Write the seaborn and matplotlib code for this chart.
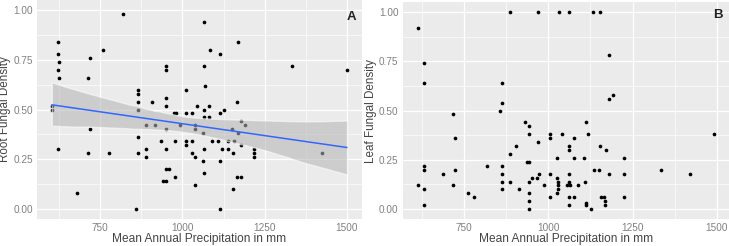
import matplotlib
matplotlib.use("Agg")
import matplotlib.pyplot as plt
from matplotlib.ticker import MultipleLocator
import seaborn as sns
import pandas as pd

# Panel A: root fungal density vs mean annual precipitation
root_precip = [603, 603, 623, 623, 625, 623, 625, 623, 681, 712, 718, 718, 712, 760, 778,
               818, 858, 866, 866, 866, 866, 866, 866, 889, 889, 889, 908, 918, 935, 941,
               950, 951, 951, 951, 951, 951, 951, 951, 958, 973, 980, 977, 977, 993,
               1067, 1168, 1083, 1114, 1066, 1333, 1500, 1068, 1011, 1166, 1045, 1082, 1127,
               1067, 1011, 1030, 1114, 1066, 1082, 1178, 1037, 1190, 1037, 1150, 1062, 1168,
               1011, 1030, 1089, 1108, 1139, 1156, 1011, 1178, 1066, 1119, 1137, 1218, 1030,
               1153, 1218, 1423, 1037, 1218, 1062, 1114, 1066, 1166, 1178, 1037, 1153, 1114]
root_density = [0.52, 0.50, 0.84, 0.78, 0.74, 0.70, 0.66, 0.30, 0.08, 0.66, 0.76, 0.40, 0.28, 0.80, 0.28,
                0.98, 0.00, 0.60, 0.58, 0.54, 0.50, 0.36, 0.28, 0.42, 0.30, 0.26, 0.54, 0.42, 0.34, 0.14,
                0.14, 0.72, 0.70, 0.56, 0.52, 0.40, 0.30, 0.20, 0.20, 0.48, 0.48, 0.34, 0.16, 0.42,
                0.94, 0.84, 0.80, 0.78, 0.72, 0.72, 0.70, 0.62, 0.60, 0.54, 0.52, 0.52, 0.50,
                0.50, 0.48, 0.48, 0.48, 0.46, 0.46, 0.44, 0.42, 0.42, 0.40, 0.40, 0.38, 0.38,
                0.34, 0.34, 0.34, 0.34, 0.34, 0.34, 0.32, 0.32, 0.30, 0.30, 0.30, 0.30, 0.28,
                0.28, 0.28, 0.28, 0.26, 0.26, 0.24, 0.24, 0.18, 0.16, 0.16, 0.12, 0.10, 0.00]

# Panel B: leaf fungal density vs mean annual precipitation
leaf_precip = [612, 632, 632, 632, 632, 612, 632, 632, 687, 717, 722, 724, 717, 763, 780,
               819, 857, 862, 862, 862, 862, 862, 862, 886, 886, 887, 904, 914, 930, 937,
               944, 944, 944, 944, 944, 944, 944, 953, 968, 970, 973, 970,
               1031, 1061, 1134, 1152, 1179, 1191, 1179, 1113, 1004, 1040, 1118, 1491, 1004,
               1077, 1061, 1152, 1061, 1170, 1025, 1077, 1105, 1224, 1137, 1150, 1334, 1421,
               1004, 1061, 1179, 1224, 1025, 1030, 1061, 1110, 1030, 1057, 1064, 1088, 986,
               1030, 1025, 1004, 1061, 1077, 1155, 1165, 1224, 1113, 1113, 1061, 1167, 1167, 1126]
leaf_density = [0.92, 0.74, 0.64, 0.22, 0.20, 0.12, 0.10, 0.02, 0.18, 0.48, 0.36, 0.20, 0.12, 0.08, 0.06,
                0.22, 0.50, 0.64, 0.54, 0.22, 0.18, 0.14, 0.10, 1.00, 0.14, 0.28, 0.32, 0.10, 0.44, 0.24,
                0.24, 0.42, 0.38, 0.14, 0.08, 0.04, 0.00, 0.16, 0.16, 0.34, 0.18, 1.00,
                1.00, 1.00, 1.00, 1.00, 0.78, 0.58, 0.56, 0.44, 0.38, 0.38, 0.38, 0.38, 0.36,
                0.36, 0.32, 0.32, 0.30, 0.30, 0.26, 0.26, 0.26, 0.26, 0.20, 0.20, 0.20, 0.18,
                0.18, 0.18, 0.18, 0.18, 0.16, 0.14, 0.14, 0.14, 0.12, 0.12, 0.12, 0.12, 0.12,
                0.10, 0.08, 0.06, 0.06, 0.06, 0.06, 0.06, 0.06, 0.03, 0.02, 0.02, 0.04, 0.02, 0.00]

x_ticks = [750, 1000, 1250, 1500]
y_ticks = [0.00, 0.25, 0.50, 0.75, 1.00]

root = pd.DataFrame({"precip": root_precip, "density": root_density})
leaf = pd.DataFrame({"precip": leaf_precip, "density": leaf_density})

sns.set_theme(style="darkgrid", rc={
    "axes.facecolor": "#EBEBEB",
    "grid.color": "white",
    "axes.edgecolor": "#EBEBEB",
})
plt.rcParams["font.family"] = ["Liberation Sans", "DejaVu Sans"]

fig = plt.figure(figsize=(7.29, 2.46), dpi=100)
ax_a = fig.add_axes([0.0508, 0.1098, 0.4454, 0.890])
ax_b = fig.add_axes([0.5524, 0.1098, 0.447, 0.882])

sns.regplot(data=root, x="precip", y="density", ax=ax_a, ci=95,
            scatter_kws={"s": 7, "color": "black", "linewidths": 0, "alpha": 1},
            line_kws={"color": "#3366FF", "lw": 1.1})
# make CI band look like ggplot grey
for coll in ax_a.collections[1:]:
    coll.set_facecolor("#B3B3B3")
    coll.set_alpha(0.55)

sns.scatterplot(data=leaf, x="precip", y="density", ax=ax_b, s=7,
                color="black", linewidth=0)

panels = [(ax_a, "A", "Root Fungal Density", root_precip, 0.921),
          (ax_b, "B", "Leaf Fungal Density", leaf_precip, 0.94)]
for ax, lab, ylab, xr, lab_y in panels:
    lo, hi = min(xr), max(xr)
    pad = (hi - lo) * 0.05
    ax.set_xlim(lo - pad, hi + pad)
    ax.set_ylim(-0.05, 1.05)
    ax.set_xticks(x_ticks)
    ax.set_yticks(y_ticks)
    ax.set_yticklabels([f"{v:.2f}" for v in y_ticks])
    ax.xaxis.set_minor_locator(MultipleLocator(125))
    ax.yaxis.set_minor_locator(MultipleLocator(0.125))
    ax.grid(which="major", color="white", lw=0.9)
    ax.grid(which="minor", color="white", lw=0.45)
    ax.tick_params(which="major", length=2, width=0.6, color="#666666",
                   labelsize=7.2, labelcolor="#808080", pad=1)
    ax.tick_params(which="minor", length=0)
    ax.set_xlabel("Mean Annual Precipitation in mm", fontsize=8.6, color="#444444")
    ax.set_ylabel(ylab, fontsize=8.4, color="#444444")
    ax.xaxis.set_label_coords(0.5, -0.064)
    ax.yaxis.set_label_coords(-0.079, 0.5)
    ax.text(0.968, lab_y, lab, transform=ax.transAxes, ha="center", va="center",
            fontsize=9.5, fontweight="bold", color="#222222")
    for sp in ax.spines.values():
        sp.set_visible(False)

fig.savefig("out.png", dpi=100)
